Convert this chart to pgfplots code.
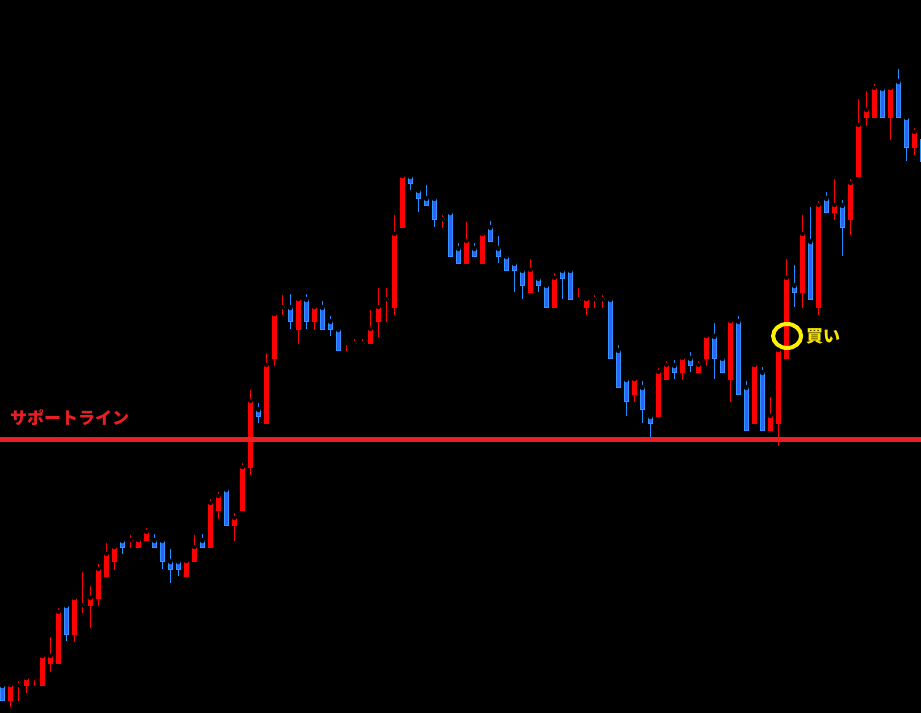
\documentclass[border=0pt]{standalone}
\usepackage{pgfplots}
\usepackage{pgfplotstable}
\pgfplotsset{compat=1.18}
\usepackage{fontspec}
\newfontfamily\cjk{Noto Sans CJK JP}
\definecolor{cred}{RGB}{255,0,0}
\definecolor{bedge}{RGB}{51,150,255}
\definecolor{bfill}{RGB}{48,96,255}
\definecolor{bwick}{RGB}{30,144,255}
\definecolor{sline}{RGB}{234,30,37}
\definecolor{ytext}{RGB}{250,230,0}
% pixel rows (from top): hi = wick top, lo = wick bottom, bt = body top, bb = body bottom
\pgfplotstableread{
k hi lo bt bb
1 685 707 685 701
2 679 701 685 686
3 678 693 678 686
4 678 686 678 679
5 656 686 656 686
6 635 672 656 664
7 606 664 612 664
9 598 642 598 635
10 570 613 605 606
11 584 628 598 606
12 562 606 569 599
13 541 577 554 577
14 547 570 547 562
16 533 548 540 541
17 540 548 540 548
18 526 541 532 541
23 561 577 561 577
24 533 562 547 562
26 497 548 503 548
27 490 519 496 511
29 511 541 518 526
30 461 511 467 511
31 388 475 401 468
33 351 424 365 424
34 314 366 314 359
35 293 315 307 308
37 299 344 299 330
39 307 330 307 322
43 343 351 343 344
44 337 344 343 344
45 337 344 343 344
46 308 344 329 344
47 286 337 307 322
48 286 322 299 300
49 213 315 234 308
50 176 228 176 228
55 213 228 219 220
58 220 264 241 264
60 234 264 234 264
66 257 293 270 293
69 271 308 278 308
72 286 300 299 300
73 299 315 299 308
74 293 308 299 300
75 293 308 299 300
79 379 402 379 395
82 366 417 372 417
83 359 380 365 380
85 358 380 358 373
87 359 373 365 373
88 336 366 336 359
91 321 402 321 380
94 365 424 365 424
96 395 431 416 431
97 350 446 350 424
98 257 359 278 359
100 213 308 234 293
102 199 315 205 308
104 177 220 205 213
106 177 235 183 220
107 97 177 125 177
108 89 126 110 118
109 82 118 88 118
111 88 140 88 118
114 126 155 132 148
}\redtab
\pgfplotstableread{
k hi lo bt bb
0 685 701 685 701
8 605 641 605 635
15 540 554 540 548
19 532 548 540 548
20 540 569 540 562
21 547 583 561 570
22 561 576 561 570
25 532 548 540 548
28 489 526 489 526
32 401 423 409 417
36 292 329 307 322
38 292 329 299 322
40 299 330 307 330
41 314 336 321 330
42 329 351 329 351
51 176 190 176 184
52 190 212 190 199
53 183 206 198 206
54 198 227 198 220
56 212 257 212 257
57 241 264 248 264
59 241 257 248 257
61 219 242 227 242
62 234 263 248 257
63 256 271 256 271
64 263 292 263 271
65 270 299 270 286
67 278 292 278 286
68 285 308 285 308
70 270 299 270 279
71 270 300 270 300
76 299 359 299 359
77 343 388 350 388
78 379 416 379 402
80 379 423 387 410
81 416 437 416 424
84 358 379 365 373
86 350 372 358 366
89 321 379 336 359
90 358 373 358 373
92 314 395 321 395
93 379 431 387 431
95 365 431 372 431
99 263 307 285 293
101 205 300 241 300
103 190 213 198 213
105 198 256 205 228
110 88 118 88 118
112 67 118 81 118
113 117 161 117 148
115 139 162 139 162
}\bluetab
\begin{document}
\begin{tikzpicture}
\begin{axis}[
  at={(0,0)}, anchor=south west,
  scale only axis, width=921bp, height=713bp,
  xmin=-0.2875, xmax=114.8375, ymin=0, ymax=713, y dir=reverse,
  axis line style={draw=none}, ticks=none,
  axis background/.style={fill=black},
  clip=true,
]
% wicks
\addplot[only marks, mark=none, error bars/.cd, y dir=plus, y explicit, error mark=none,
  error bar style={draw=cred, line width=1bp}]
  table[x=k, y=hi, y error plus expr=\thisrow{lo}-\thisrow{hi}] {\redtab};
\addplot[only marks, mark=none, error bars/.cd, y dir=plus, y explicit, error mark=none,
  error bar style={draw=bwick, line width=1bp}]
  table[x=k, y=hi, y error plus expr=\thisrow{lo}-\thisrow{hi}] {\bluetab};
% bodies
\addplot[only marks, mark=none, error bars/.cd, y dir=plus, y explicit, error mark=none,
  error bar style={draw=cred, line width=5bp}]
  table[x=k, y=bt, y error plus expr=\thisrow{bb}-\thisrow{bt}] {\redtab};
\addplot[only marks, mark=none, error bars/.cd, y dir=plus, y explicit, error mark=none,
  error bar style={draw=bedge, line width=5bp}]
  table[x=k, y=bt, y error plus expr=\thisrow{bb}-\thisrow{bt}] {\bluetab};
\addplot[only marks, mark=none, error bars/.cd, y dir=plus, y explicit, error mark=none,
  error bar style={draw=bfill, line width=3bp}]
  table[x=k, y expr=\thisrow{bt}+1, y error plus expr=\thisrow{bb}-\thisrow{bt}-2] {\bluetab};
% support line
\draw[sline, line width=5bp] (axis cs:-1,439.5) -- (axis cs:116,439.5);
\node[anchor=west, inner sep=0pt, text=sline, font=\cjk\bfseries\fontsize{17bp}{17bp}\selectfont]
  at (axis cs:0.95,418) {サポートライン};
% buy marker
\draw[yellow, line width=4bp] (axis cs:98.1,336) ellipse [x radius=14bp, y radius=12bp];
\node[anchor=west, inner sep=0pt, text=ytext, font=\cjk\bfseries\fontsize{17bp}{17bp}\selectfont]
  at (axis cs:100.45,336) {買い};
\end{axis}
\end{tikzpicture}
\end{document}
